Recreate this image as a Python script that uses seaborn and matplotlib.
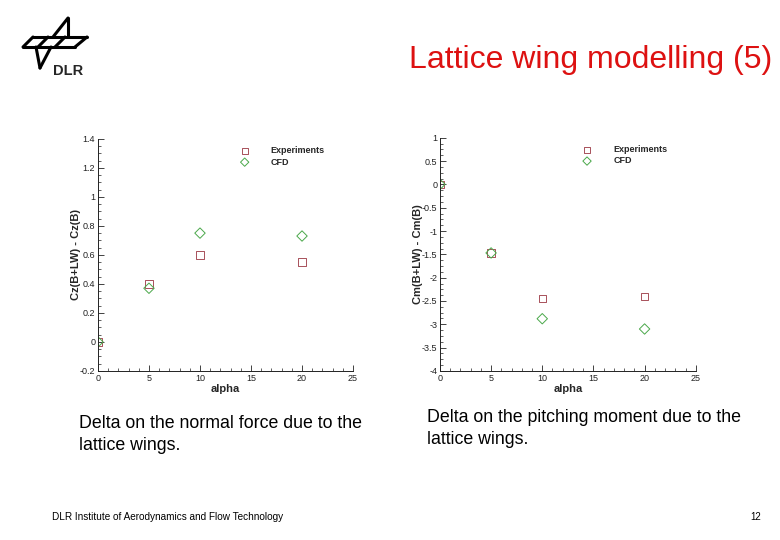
import matplotlib
matplotlib.use("Agg")
import matplotlib.pyplot as plt
import seaborn as sns
import pandas as pd
from matplotlib.lines import Line2D
from matplotlib.ticker import MultipleLocator, FuncFormatter

sns.set_theme(style="white")
plt.rcParams['font.family'] = ['Liberation Sans', 'DejaVu Sans']

# data
alpha = [0, 5, 10, 20]
cz_exp = [0.0, 0.40, 0.60, 0.55]
cz_cfd = [0.0, 0.37, 0.75, 0.73]
cm_exp = [0.0, -1.47, -2.45, -2.40]
cm_cfd = [0.0, -1.47, -2.88, -3.10]

exp_color = "#a8505a"
cfd_color = "#4aa84a"

fig = plt.figure(figsize=(7.8, 5.4), dpi=100)
fig.patch.set_facecolor("white")

fmt = FuncFormatter(lambda v, p: ("%g" % round(v, 3)).replace("\u2212", "-"))


def panel(ax, exp_vals, cfd_vals, ylim, ystep, yminor, ylabel):
    df = pd.DataFrame({"alpha": alpha, "exp": exp_vals, "cfd": cfd_vals})
    sns.scatterplot(data=df, x="alpha", y="exp", ax=ax, marker="s", s=28,
                    facecolors="none", edgecolor=exp_color, linewidth=0.7,
                    label="Experiments")
    sns.scatterplot(data=df, x="alpha", y="cfd", ax=ax, marker="D", s=28,
                    facecolors="none", edgecolor=cfd_color, linewidth=0.7,
                    label="CFD")
    ax.set_xlim(0, 25)
    ax.set_ylim(*ylim)
    ax.xaxis.set_major_locator(MultipleLocator(5))
    ax.xaxis.set_minor_locator(MultipleLocator(1))
    ax.yaxis.set_major_locator(MultipleLocator(ystep))
    ax.yaxis.set_minor_locator(MultipleLocator(yminor))
    ax.xaxis.set_major_formatter(fmt)
    ax.yaxis.set_major_formatter(fmt)
    ax.tick_params(which="both", direction="in", left=True, bottom=True,
                   labelsize=6.5, colors="#222222", pad=2)
    ax.tick_params(which="major", length=4, width=0.6)
    ax.tick_params(which="minor", length=2, width=0.5)
    for s in ["top", "right"]:
        ax.spines[s].set_visible(False)
    for s in ["left", "bottom"]:
        ax.spines[s].set_color("#222222")
        ax.spines[s].set_linewidth(0.7)
    ax.set_xlabel("alpha", fontsize=8, fontweight="bold", labelpad=1)
    ax.set_ylabel(ylabel, fontsize=8, fontweight="bold", labelpad=-1)
    ax.legend(loc="upper left", bbox_to_anchor=(0.515, 0.995), frameon=False,
              prop={"weight": "bold", "size": 6.5}, markerscale=0.8,
              handletextpad=1.9, labelspacing=0.25, borderpad=0.2)
    ax.set_facecolor("white")


ax1 = fig.add_axes([0.1256, 0.313, 0.327, 0.430])
panel(ax1, cz_exp, cz_cfd, (-0.2, 1.4), 0.2, 0.05, "Cz(B+LW) - Cz(B)")

ax2 = fig.add_axes([0.564, 0.313, 0.328, 0.432])
panel(ax2, cm_exp, cm_cfd, (-4, 1), 0.5, 0.125, "Cm(B+LW) - Cm(B)")

# title
fig.text(0.990, 0.889, "Lattice wing modelling (5)", color="#dd1111",
         fontsize=23, ha="right", va="center")


# DLR logo (rough)
def fx(px):
    return px / 780


def fy(py):
    return 1 - py / 540


logo = [((23, 47), (33, 37)), ((33, 37), (87, 37)), ((87, 37), (75, 47)),
        ((75, 47), (23, 47)), ((48, 37), (38, 47)), ((65, 37), (55, 47)),
        ((53, 37), (68, 18)), ((68, 18), (68, 37)),
        ((36, 47), (40, 68)), ((51, 47), (40, 68))]
for (x0, y0), (x1, y1) in logo:
    fig.add_artist(Line2D([fx(x0), fx(x1)], [fy(y0), fy(y1)], color="black",
                          lw=2.2, transform=fig.transFigure,
                          solid_capstyle="round"))
fig.text(fx(53), fy(71), "DLR", fontsize=10.5, fontweight="bold", va="center")

# captions
fig.text(fx(79), fy(423), "Delta on the normal force due to the",
         fontsize=12.8, va="center", color="black")
fig.text(fx(79), fy(445), "lattice wings.", fontsize=12.8, va="center",
         color="black")
fig.text(fx(427), fy(417), "Delta on the pitching moment due to the",
         fontsize=12.8, va="center", color="black")
fig.text(fx(427), fy(439), "lattice wings.", fontsize=12.8, va="center",
         color="black")

fig.text(fx(52), fy(517), "DLR Institute of Aerodynamics and Flow Technology",
         fontsize=7.2, va="center", color="black")
fig.text(fx(761), fy(517), "12", fontsize=7, va="center", ha="right",
         color="black")

fig.savefig("out.png", dpi=100)
